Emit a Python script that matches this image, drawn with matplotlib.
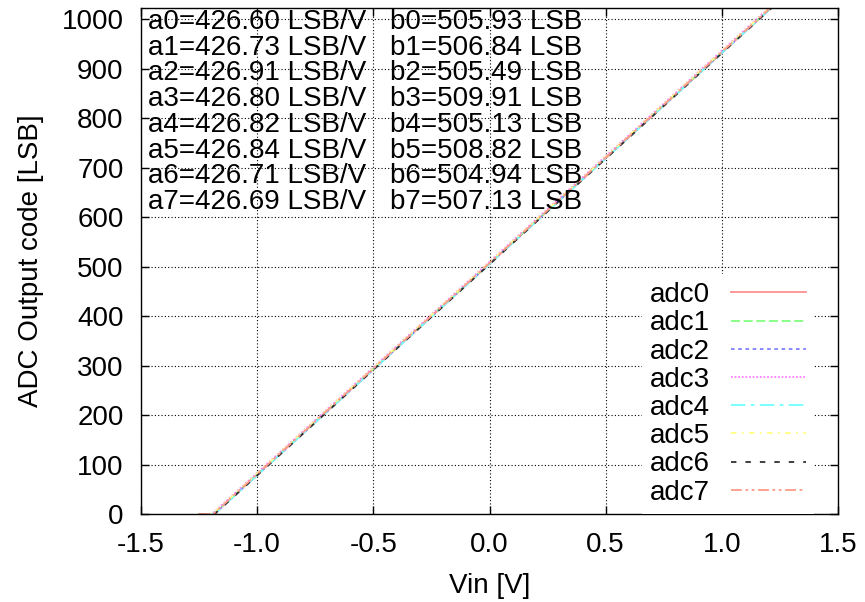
import numpy as np
import matplotlib.pyplot as plt

plt.rcParams['font.family'] = ['Liberation Sans', 'DejaVu Sans']

# parametros de ajuste (pendiente y ordenada) de cada canal
nombres = ['adc0', 'adc1', 'adc2', 'adc3', 'adc4', 'adc5', 'adc6', 'adc7']
a = [426.60, 426.73, 426.91, 426.80, 426.82, 426.84, 426.71, 426.69]
b = [505.93, 506.84, 505.49, 509.91, 505.13, 508.82, 504.94, 507.13]

# puntos de quiebre de cada curva (Vin donde empieza a subir / satura)
vin_ini = -1.25
vin_fin = 1.26
vin_lo = [-1.186, -1.188, -1.184, -1.195, -1.183, -1.192, -1.183, -1.189]
vin_hi = [1.212, 1.210, 1.212, 1.202, 1.213, 1.205, 1.214, 1.209]
code_min = 0
code_max = 1023

colores = ['#ff9090', '#80ff80', '#8080ff', '#ff80ff', '#70ffff', '#ffff80', '#303030', '#ff9a8a']
estilos = ['-', (0, (5, 2)), (0, (2, 2)), (0, (1, 1)), (0, (8, 3, 2, 3)),
           (0, (3, 3, 1, 3)), (0, (3, 5)), (0, (6, 2, 1.5, 2, 1.5, 2))]

fs = 20

fig = plt.figure(figsize=(8.65, 6.02), dpi=100)
ax = fig.add_axes([141/865, 1 - 514/602, 697/865, 506/602])

for i in range(8):
    x = [vin_ini, vin_lo[i], vin_hi[i], vin_fin]
    y = [code_min, code_min, code_max, code_max]
    ax.plot(x, y, color=colores[i], ls=estilos[i], lw=1.3, label=nombres[i])

ax.set_xlim(-1.5, 1.5)
ax.set_ylim(0, 1023)
ax.set_xticks(np.arange(-1.5, 1.51, 0.5))
ax.set_xticklabels(['{:.1f}'.format(v) for v in np.arange(-1.5, 1.51, 0.5)])
ax.set_yticks(np.arange(0, 1001, 100))
ax.tick_params(direction='in', length=6, top=True, right=True, labelsize=fs, width=1)
ax.tick_params(axis='x', pad=13)
ax.tick_params(axis='y', pad=12.5)
ax.grid(True, color='black', ls=(0, (1, 2)), lw=0.8)
for s in ax.spines.values():
    s.set_linewidth(1)

ax.set_xlabel('Vin [V]', fontsize=fs, labelpad=11)
ax.set_ylabel('ADC Output code [LSB]', fontsize=fs, labelpad=13)

# texto con los parametros
for i in range(8):
    ypix = 22 + 25.7*i
    yfr = (506 - (ypix - 8)) / 506
    ax.text(0.010, yfr, 'a{}={:.2f} LSB/V'.format(i, a[i]), transform=ax.transAxes,
            fontsize=fs, va='center', ha='left')
    ax.text(0.357, yfr, 'b{}={:.2f} LSB'.format(i, b[i]), transform=ax.transAxes,
            fontsize=fs, va='center', ha='left')

leg = ax.legend(loc='lower right', bbox_to_anchor=(0.966, 0.0), fontsize=fs,
                markerfirst=False, frameon=True, framealpha=1, facecolor='white',
                edgecolor='none', fancybox=False, labelspacing=0.08,
                handlelength=2.7, handletextpad=0.75, borderpad=0.3, borderaxespad=0)

fig.savefig('out.png', dpi=100)
